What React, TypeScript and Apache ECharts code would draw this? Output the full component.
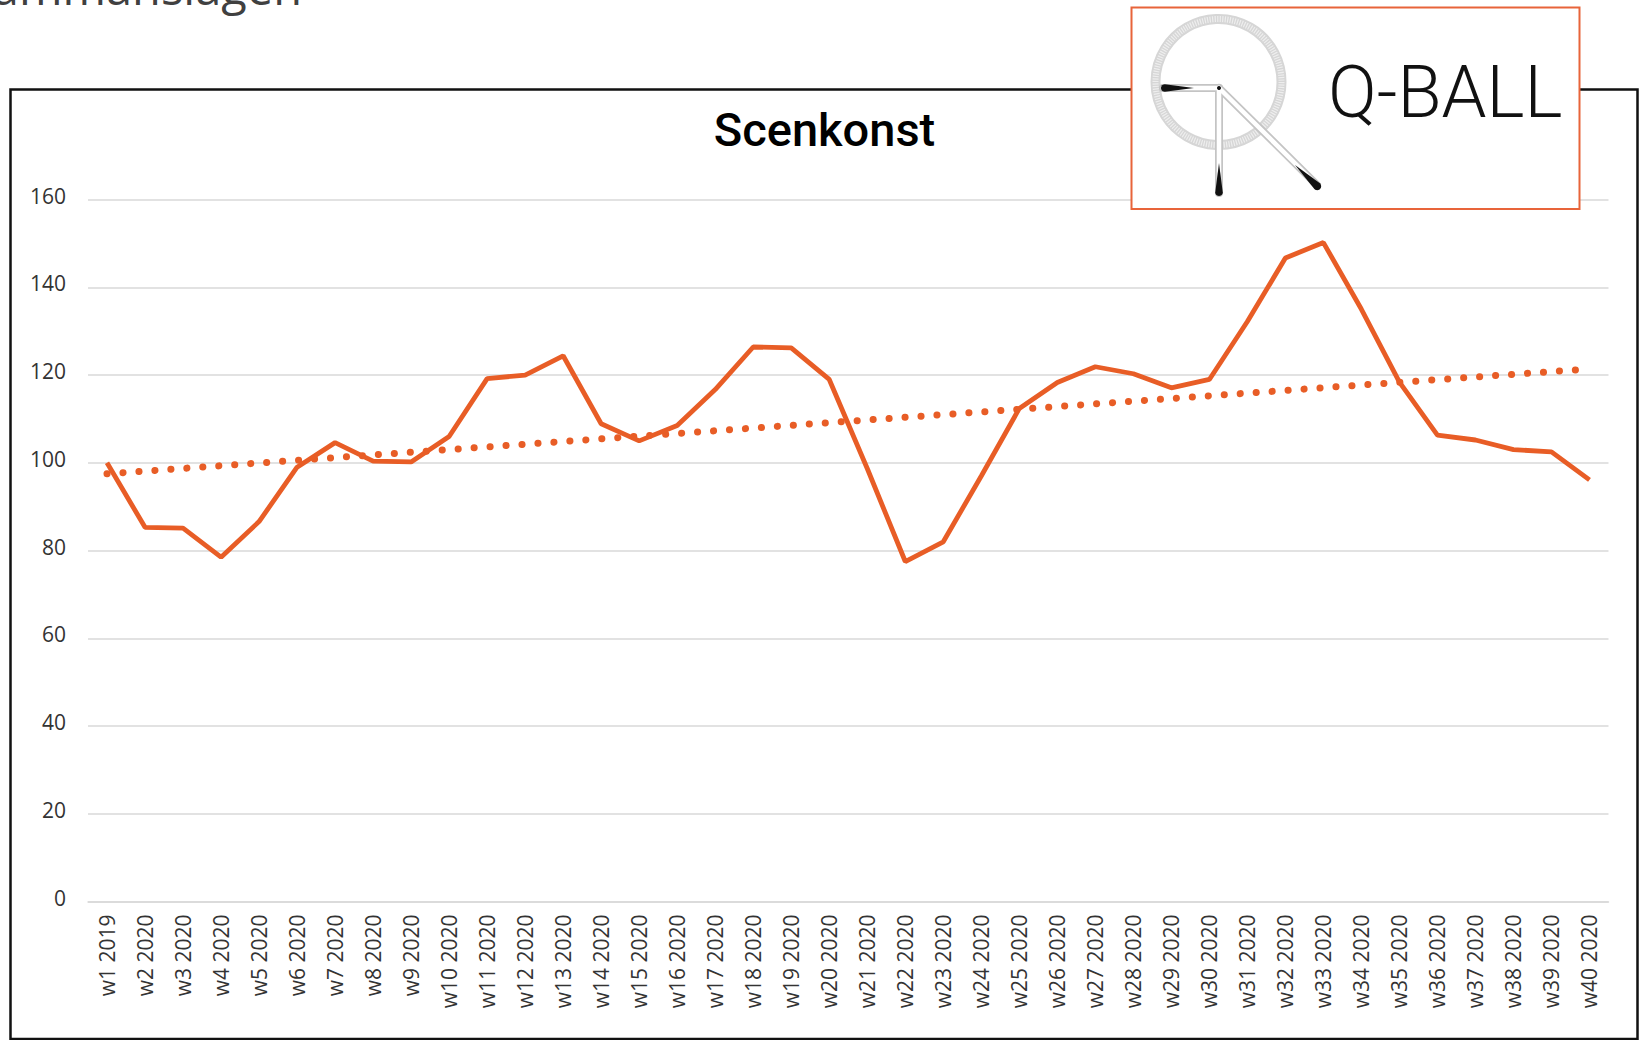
import React, { useEffect, useRef } from "react";
import * as echarts from "echarts";

const weeks = [
  "w1 2019", "w2 2020", "w3 2020", "w4 2020", "w5 2020", "w6 2020", "w7 2020", "w8 2020",
  "w9 2020", "w10 2020", "w11 2020", "w12 2020", "w13 2020", "w14 2020", "w15 2020", "w16 2020",
  "w17 2020", "w18 2020", "w19 2020", "w20 2020", "w21 2020", "w22 2020", "w23 2020", "w24 2020",
  "w25 2020", "w26 2020", "w27 2020", "w28 2020", "w29 2020", "w30 2020", "w31 2020", "w32 2020",
  "w33 2020", "w34 2020", "w35 2020", "w36 2020", "w37 2020", "w38 2020", "w39 2020", "w40 2020",
];

const values = [
  100, 85.3, 85.1, 78.5, 86.6, 99.0, 104.6, 100.4,
  100.2, 106.0, 119.2, 120.0, 124.4, 108.9, 105.0, 108.5,
  116.7, 126.4, 126.2, 119.0, 98.7, 77.5, 82.0, 97.0,
  112.4, 118.3, 121.9, 120.3, 117.1, 119.0, 132.2, 146.7,
  150.2, 135.0, 118.4, 106.3, 105.2, 103.0, 102.5, 96.1,
];

const trendStart = 97.5;
const trendEnd = 121.4;

const chartTitle = "Scenkonst";
const headerText = "Sammanslagen";
const logoText = "Q-BALL";

const ORANGE = "#E85D26";

function drop(sx: number, sy: number, ex: number, ey: number, w: number) {
  const dx = ex - sx, dy = ey - sy;
  const L = Math.hypot(dx, dy);
  const ux = dx / L, uy = dy / L;
  const nx = -uy, ny = ux;
  const r = w / 2;
  const cx = ex - ux * r, cy = ey - uy * r;
  const pts: number[][] = [[sx, sy]];
  for (let a = 90; a >= -90; a -= 15) {
    const t = (a * Math.PI) / 180;
    pts.push([
      cx + r * (Math.cos(t) * ux + Math.sin(t) * nx),
      cy + r * (Math.cos(t) * uy + Math.sin(t) * ny),
    ]);
  }
  return pts;
}

export default function App() {
  const ref = useRef<HTMLDivElement>(null);
  useEffect(() => {
    if (!ref.current) return;
    const chart = echarts.init(ref.current, null, { renderer: "svg" });
    const pivot = [1219, 88];
    const hands = [
      [1163, 88],
      [1219, 193],
      [1317, 185],
    ];
    const logoChildren: any[] = [
      {
        type: "rect",
        shape: { x: 1131.5, y: 7.5, width: 448, height: 201.5 },
        style: { fill: "#fff", stroke: "#E8643A", lineWidth: 2 },
      },
      {
        type: "circle",
        shape: { cx: 1218.5, cy: 82, r: 63 },
        style: { fill: "none", stroke: "#d6d6d6", lineWidth: 10 },
      },
      {
        type: "circle",
        shape: { cx: 1218.5, cy: 82, r: 63 },
        style: { fill: "none", stroke: "#eeeeee", lineWidth: 6, lineDash: [1.2, 1.3] },
      },
    ];
    hands.forEach((h) => {
      logoChildren.push({
        type: "line",
        shape: { x1: pivot[0], y1: pivot[1], x2: h[0], y2: h[1] },
        style: { stroke: "#c4c4c4", lineWidth: 8, lineCap: "round" },
      });
    });
    hands.forEach((h) => {
      logoChildren.push({
        type: "line",
        shape: { x1: pivot[0], y1: pivot[1], x2: h[0], y2: h[1] },
        style: { stroke: "#ffffff", lineWidth: 4.5, lineCap: "round" },
      });
    });
    logoChildren.push(
      { type: "polygon", shape: { points: drop(1194, 88, 1161, 88, 7.5) }, style: { fill: "#111" } },
      { type: "polygon", shape: { points: drop(1219, 163, 1219, 196, 7.5) }, style: { fill: "#111" } },
      { type: "polygon", shape: { points: drop(1295, 165, 1320, 189, 8) }, style: { fill: "#111" } },
      { type: "circle", shape: { cx: 1219, cy: 88, r: 2 }, style: { fill: "#111" } },
      {
        type: "text",
        x: 1328,
        y: 92,
        style: {
          text: logoText,
          font: '300 72px "Roboto"',
          fill: "#111",
          textAlign: "left",
          textVerticalAlign: "middle",
          align: "left",
          verticalAlign: "middle",
        },
      }
    );

    const option: any = {
      animation: false,
      backgroundColor: "#ffffff",
      grid: { left: 88, right: 33.5, top: 199.6, bottom: 138.5, containLabel: false },
      xAxis: {
        type: "category",
        data: weeks,
        boundaryGap: true,
        axisLine: { show: true, lineStyle: { color: "#d9d9d9", width: 1.5 } },
        axisTick: { show: false },
        splitLine: { show: false },
        axisLabel: {
          rotate: 90,
          interval: 0,
          margin: 13,
          fontSize: 21,
          color: "#333333",
          fontFamily: "Open Sans",
        },
      },
      yAxis: {
        type: "value",
        min: 0,
        max: 160,
        interval: 20,
        axisLine: { show: false },
        axisTick: { show: false },
        axisLabel: {
          margin: 22,
          fontSize: 21,
          color: "#333333",
          fontFamily: "Open Sans",
          verticalAlign: "bottom",
          lineHeight: 8,
        },
        splitLine: { lineStyle: { color: "#d9d9d9", width: 1.5 } },
      },
      series: [
        {
          type: "line",
          name: "Scenkonst",
          data: values,
          symbol: "none",
          lineStyle: { color: ORANGE, width: 4.8 },
          z: 3,
        },
        {
          type: "line",
          name: "Trend",
          data: [
            [weeks[0], trendStart],
            [weeks[weeks.length - 1], trendEnd],
          ],
          symbol: "none",
          lineStyle: { color: ORANGE, width: 7, type: [0.1, 15.9], cap: "round" },
          z: 2,
        },
      ],
      graphic: [
        {
          type: "rect",
          z: 50,
          shape: { x: 10.5, y: 89.5, width: 1627, height: 949.5 },
          style: { fill: "none", stroke: "#111", lineWidth: 2.5 },
        },
        {
          type: "text",
          z: 50,
          x: 302,
          y: -13,
          style: {
            text: headerText,
            font: '47px "Open Sans"',
            fill: "#404040",
            textAlign: "right",
            textVerticalAlign: "middle",
            align: "right",
            verticalAlign: "middle",
          },
        },
        {
          type: "text",
          z: 50,
          x: 824.5,
          y: 129,
          style: {
            text: chartTitle,
            font: '500 47px "Roboto"',
            fill: "#000",
            textAlign: "center",
            textVerticalAlign: "middle",
            align: "center",
            verticalAlign: "middle",
          },
        },
        {
          type: "group",
          z: 100,
          children: logoChildren.map((c) => ({ ...c, z: 100 })),
        },
      ],
    };
    chart.setOption(option);
    return () => chart.dispose();
  }, []);
  return (
    <div
      ref={ref}
      style={{ position: "fixed", left: 0, top: 0, width: 1642, height: 1040, background: "#fff" }}
    />
  );
}
